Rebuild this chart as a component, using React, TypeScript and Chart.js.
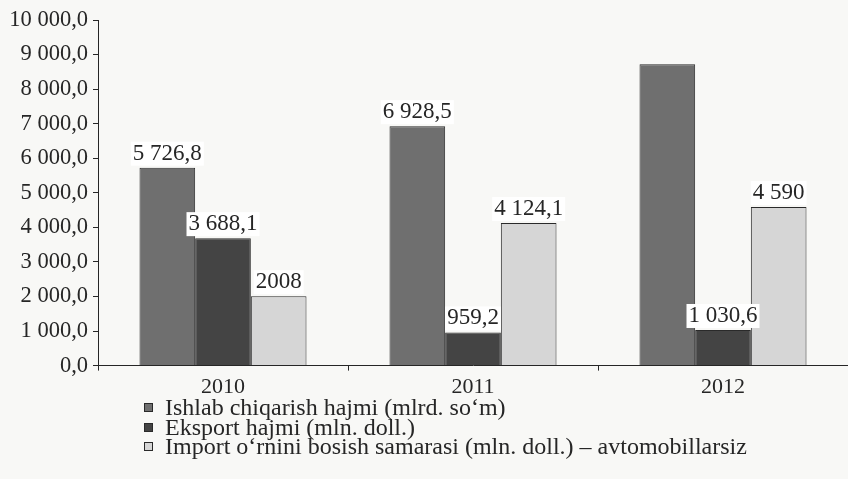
import React, { useEffect, useRef } from "react";
import { Chart, registerables } from "chart.js";

Chart.register(...registerables);

const categories = ["2010", "2011", "2012"];
const seriesNames = [
  "Ishlab chiqarish hajmi (mlrd. so‘m)",
  "Eksport hajmi (mln. doll.)",
  "Import o‘rnini bosish samarasi (mln. doll.) – avtomobillarsiz",
];
const productionValues = [5726.8, 6928.5, 8720];
const exportValues = [3688.1, 959.2, 1030.6];
const importValues = [2008, 4124.1, 4590];
const productionLabels = ["5 726,8", "6 928,5", null];
const exportLabels = ["3 688,1", "959,2", "1 030,6"];
const importLabels = ["2008", "4 124,1", "4 590"];
const seriesColors = ["#6f6f6f", "#444444", "#d6d6d6"];
const yMin = 0;
const yMax = 10000;
const yStep = 1000;

const FONT = '"Liberation Serif", "Times New Roman", serif';
const BG = "#f8f8f6";
const INK = "#262626";

function fmtTick(v: number): string {
  const s = Math.round(v).toString();
  const withSpaces = s.replace(/\B(?=(\d{3})+(?!\d))/g, " ");
  return withSpaces + ",0";
}

const labelSets = [productionLabels, exportLabels, importLabels];

const valueLabelPlugin = {
  id: "valueLabels",
  afterDatasetsDraw(chart: any) {
    const ctx = chart.ctx;
    ctx.save();
    ctx.font = `23px ${FONT}`;
    ctx.textAlign = "center";
    ctx.textBaseline = "alphabetic";
    chart.data.datasets.forEach((_ds: any, i: number) => {
      const meta = chart.getDatasetMeta(i);
      meta.data.forEach((bar: any, j: number) => {
        const label = labelSets[i][j];
        if (!label) return;
        const w = ctx.measureText(label).width;
        const base = bar.y - 8;
        ctx.fillStyle = "#ffffff";
        ctx.fillRect(bar.x - w / 2 - 2, base - 18, w + 4, 24);
        ctx.fillStyle = INK;
        ctx.fillText(label, bar.x, base);
      });
    });
    ctx.restore();
  },
};

export default function App() {
  const ref = useRef<HTMLCanvasElement | null>(null);

  useEffect(() => {
    document.body.style.margin = "0";
    const canvas = ref.current;
    if (!canvas) return;
    const datasets = [productionValues, exportValues, importValues].map((vals, i) => ({
      label: seriesNames[i],
      data: vals,
      backgroundColor: seriesColors[i],
      borderColor: "#2a2a2a",
      borderWidth: 1,
      categoryPercentage: 0.668,
      barPercentage: 1.0,
    }));
    const chart = new Chart(canvas, {
      type: "bar",
      data: { labels: categories, datasets },
      options: {
        responsive: false,
        animation: false,
        layout: { padding: { top: 20, right: 0, left: 0, bottom: 0 } },
        plugins: {
          legend: { display: false },
          tooltip: { enabled: false },
        },
        scales: {
          x: {
            offset: true,
            grid: {
              display: true,
              drawOnChartArea: false,
              drawTicks: true,
              tickLength: 5,
              color: INK,
              offset: true,
            },
            border: { display: true, color: INK, width: 1 },
            ticks: { color: INK, font: { family: FONT, size: 22 }, padding: 3 },
          },
          y: {
            min: yMin,
            max: yMax,
            afterFit: (scale: any) => {
              scale.width = 98;
            },
            grid: {
              display: true,
              drawOnChartArea: false,
              drawTicks: true,
              tickLength: 5,
              color: INK,
            },
            border: { display: true, color: INK, width: 1 },
            ticks: {
              stepSize: yStep,
              color: INK,
              font: { family: FONT, size: 22.5 },
              padding: 5,
              callback: (v: any) => fmtTick(Number(v)),
            },
          },
        },
      },
      plugins: [valueLabelPlugin],
    });
    return () => chart.destroy();
  }, []);

  return (
    <div style={{ position: "relative", width: 848, height: 479, background: BG, overflow: "hidden" }}>
      <canvas ref={ref} width={848} height={403} style={{ display: "block" }} />
      <div
        style={{
          position: "absolute",
          left: 144,
          top: 398,
          fontFamily: FONT,
          fontSize: 24,
          lineHeight: "19.5px",
          color: INK,
          whiteSpace: "nowrap",
        }}
      >
        {seriesNames.map((name, i) => (
          <div key={name} style={{ display: "flex", alignItems: "center", height: 19.5 }}>
            <span
              style={{
                display: "inline-block",
                width: 7,
                height: 7,
                background: seriesColors[i],
                border: "1px solid #2a2a2a",
                marginRight: 12,
              }}
            />
            <span>{name}</span>
          </div>
        ))}
      </div>
    </div>
  );
}
